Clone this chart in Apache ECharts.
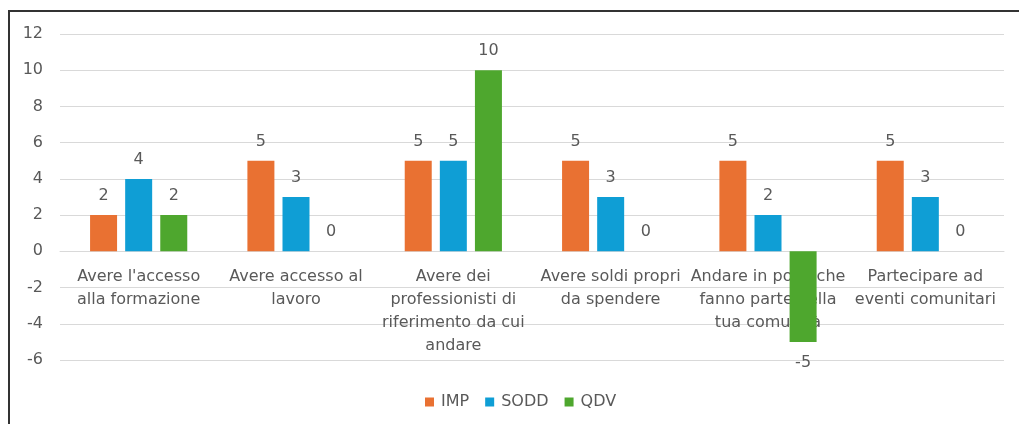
<!DOCTYPE html>
<html>
<head>
<meta charset="utf-8">
<script src="https://cdn.jsdelivr.net/npm/echarts@6/dist/echarts.min.js"></script>
<style>
  html, body { margin: 0; padding: 0; background: #fff; }
  #main { width: 1019px; height: 424px; }
</style>
</head>
<body>
<div id="main"></div>
<script>
// categories (line breaks as in the original chart)
var categories = [
  "Avere l'accesso\nalla formazione",
  'Avere accesso al\nlavoro',
  'Avere dei\nprofessionisti di\nriferimento da cui\nandare',
  'Avere soldi propri\nda spendere',
  'Andare in posti che\nfanno parte della\ntua comunità',
  'Partecipare ad\neventi comunitari'
];
var imp = [2, 5, 5, 5, 5, 5];
var sodd = [4, 3, 5, 3, 2, 3];
var qdv = [2, 0, 10, 0, -5, 0];
var seriesNames = ['IMP', 'SODD', 'QDV'];
var yMin = -6, yMax = 12, yStep = 2;

var textColor = '#595959';
var fontFamily = '"DejaVu Sans", sans-serif';
var fontSize = 16;

var gridTop = 34, gridBottom = 64, chartHeight = 424;
var plotHeight = chartHeight - gridTop - gridBottom;
// the category axis sits on the zero line, like in Excel
var zeroOffset = -plotHeight * (0 - yMin) / (yMax - yMin);

var chartDom = document.getElementById('main');
var myChart = echarts.init(chartDom);

function barSeries(name, data, color) {
  return {
    name: name,
    type: 'bar',
    // negative values get their label under the bar
    data: data.map(function (v) {
      return v < 0 ? { value: v, label: { position: 'bottom', distance: 13 } } : v;
    }),
    barWidth: 27,
    barGap: '30%',
    itemStyle: { color: color },
    label: {
      show: true,
      position: 'top',
      distance: 11,
      color: textColor,
      fontSize: fontSize,
      fontFamily: fontFamily
    }
  };
}

var option = {
  animation: false,
  textStyle: { fontFamily: fontFamily },
  graphic: [
    { type: 'line', shape: { x1: 8, y1: 11, x2: 1019, y2: 11 }, style: { stroke: '#333', lineWidth: 2 } },
    { type: 'line', shape: { x1: 9, y1: 10, x2: 9, y2: 424 }, style: { stroke: '#333', lineWidth: 2 } }
  ],
  grid: { left: 60, right: 15, top: gridTop, bottom: gridBottom, outerBoundsMode: 'none', containLabel: false },
  legend: {
    data: seriesNames,
    bottom: 9,
    left: 420,
    icon: 'rect',
    itemWidth: 9,
    itemHeight: 9,
    itemGap: 16,
    textStyle: { color: textColor, fontSize: fontSize, fontFamily: fontFamily, padding: [0, 0, 0, 2] }
  },
  xAxis: {
    type: 'category',
    data: categories,
    position: 'bottom',
    offset: zeroOffset,
    axisLine: { onZero: false, lineStyle: { color: '#d9d9d9', width: 1 } },
    axisTick: { show: false },
    axisLabel: {
      interval: 0,
      margin: 14,
      color: textColor,
      fontSize: fontSize,
      lineHeight: 23,
      fontFamily: fontFamily
    }
  },
  yAxis: {
    type: 'value',
    min: yMin,
    max: yMax,
    interval: yStep,
    axisLine: { show: false },
    axisTick: { show: false },
    splitLine: { lineStyle: { color: '#d9d9d9', width: 1 } },
    axisLabel: { color: textColor, fontSize: fontSize, margin: 17, fontFamily: fontFamily }
  },
  series: [
    barSeries('IMP', imp, '#E97132'),
    barSeries('SODD', sodd, '#0F9ED5'),
    barSeries('QDV', qdv, '#4EA72E')
  ]
};

option && myChart.setOption(option);
</script>
</body>
</html>
